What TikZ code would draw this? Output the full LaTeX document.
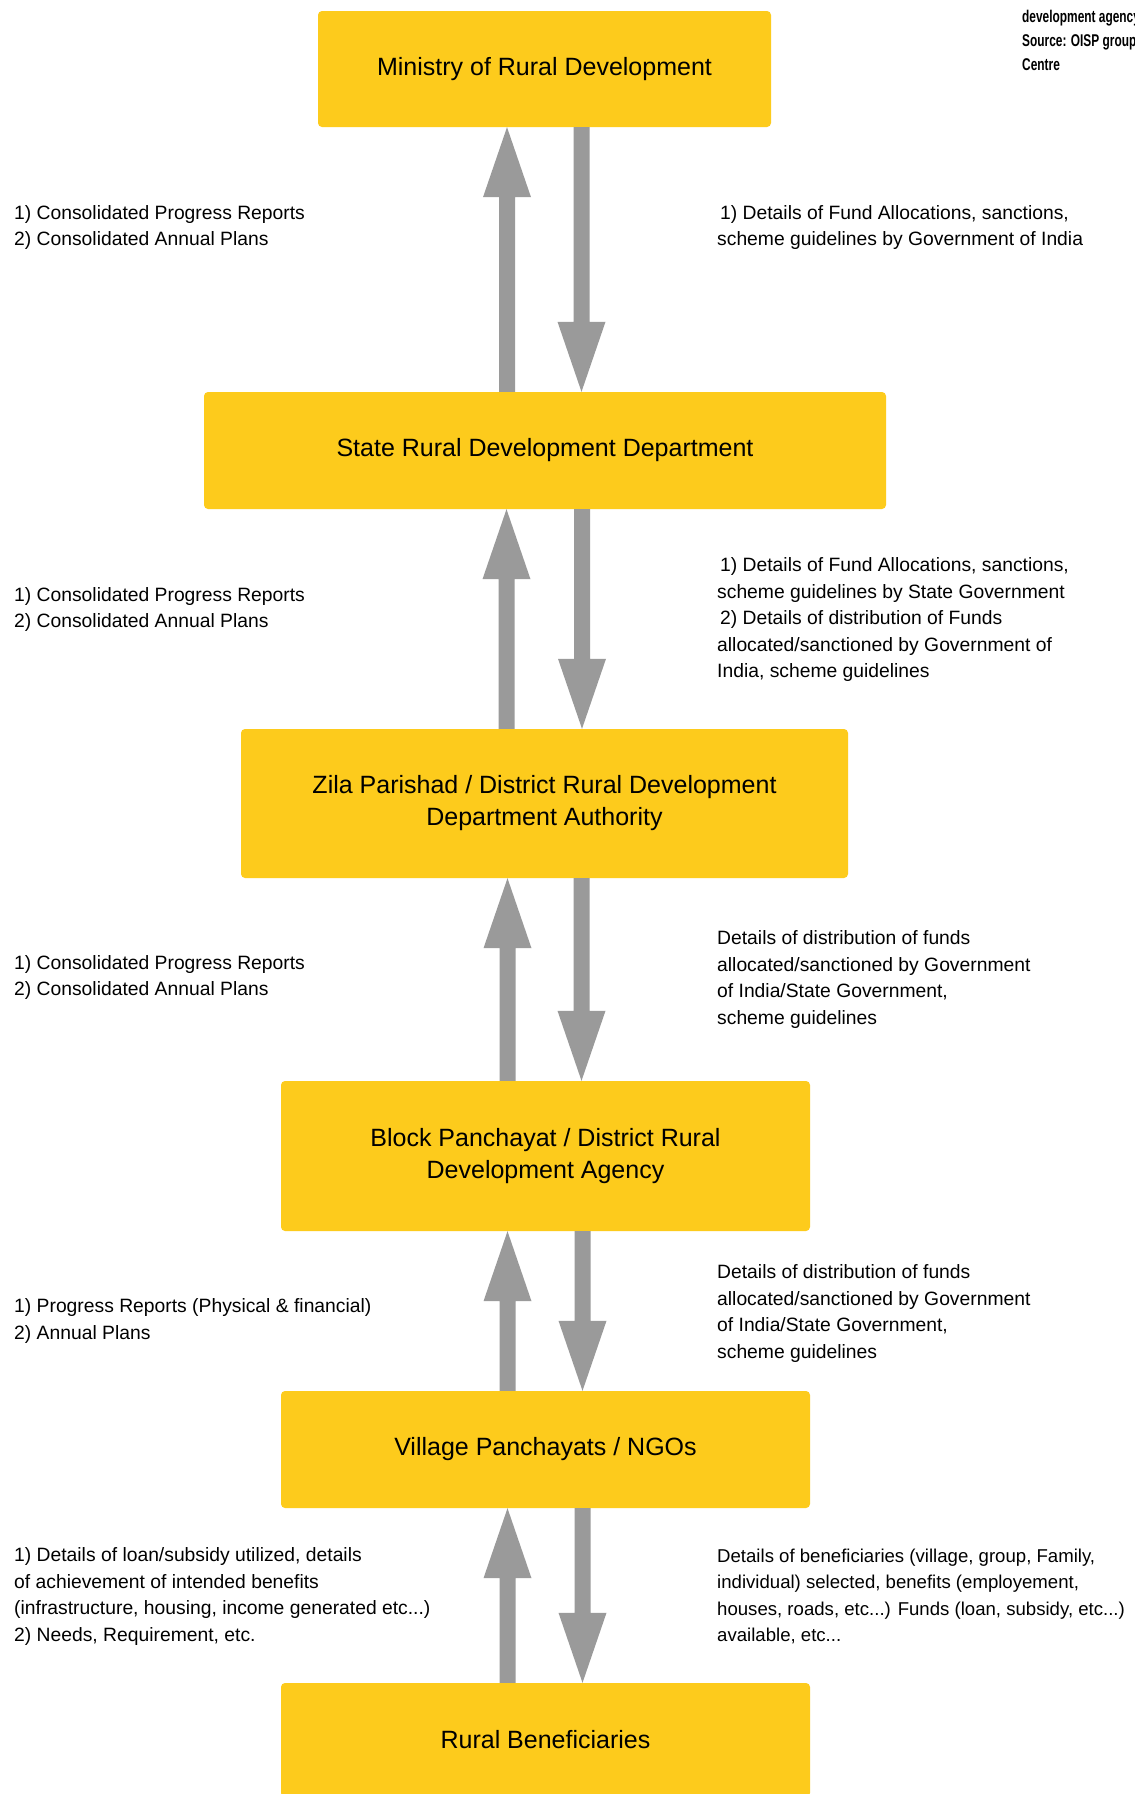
\documentclass[tikz,border=0pt]{standalone}
\usepackage{fontspec}
\setmainfont{Liberation Sans}
\newfontfamily\narrowfont[FakeStretch=0.7]{Liberation Sans}
\usetikzlibrary{calc}
\definecolor{ryellow}{HTML}{FDCB1C}
\definecolor{agrey}{HTML}{9A9A9A}
\newcommand{\uparr}[2]{\fill[agrey] let \p1=(#1), \p2=(#2) in
  (\x1-8pt,\y1) -- (\x1+8pt,\y1) -- (\x1+8pt,\y2-70pt) -- (\x1+24pt,\y2-70pt) -- (\x1,\y2)
  -- (\x1-24pt,\y2-70pt) -- (\x1-8pt,\y2-70pt) -- cycle;}
\newcommand{\downarr}[2]{\fill[agrey] let \p1=(#1), \p2=(#2) in
  (\x1-8pt,\y1) -- (\x1+8pt,\y1) -- (\x1+8pt,\y2+70pt) -- (\x1+24pt,\y2+70pt) -- (\x1,\y2)
  -- (\x1-24pt,\y2+70pt) -- (\x1-8pt,\y2+70pt) -- cycle;}
\begin{document}
\begin{tikzpicture}[x=1pt,y=-1pt,
  box/.style={fill=ryellow, rounded corners=4pt, inner sep=0pt, align=center,
    font=\fontsize{25}{32}\selectfont},
  lbl/.style={anchor=west, inner sep=0pt, align=left, font=\fontsize{19.3}{26.5}\selectfont},
]
\useasboundingbox (0,0) rectangle (1135,1794);
\clip (0,0) rectangle (1135,1794);
\fill[white] (0,0) rectangle (1135,1794);

% boxes
\node[box, minimum width=453pt, minimum height=116pt] (b1) at (544.5,69) {Ministry of Rural Development};
\node[box, minimum width=682pt, minimum height=117pt] (b2) at (545,450.5) {State Rural Development Department};
\node[box, minimum width=607pt, minimum height=149pt] (b3) at (544.5,803.5) {Zila Parishad / District Rural Development\\Department Authority};
\node[box, minimum width=529pt, minimum height=150pt] (b4) at (545.5,1156) {Block Panchayat / District Rural\\Development Agency};
\node[box, minimum width=529pt, minimum height=117pt] (b5) at (545.5,1449.5) {Village Panchayats / NGOs};
\node[box, minimum width=529pt, minimum height=114pt] (b6) at (545.5,1740) {Rural Beneficiaries};

% arrows
\uparr{[xshift=-38pt]b2.north}{[xshift=-38pt]b1.south}
\downarr{[xshift=37pt]b1.south}{[xshift=37pt]b2.north}
\uparr{[xshift=-38pt]b3.north}{[xshift=-38pt]b2.south}
\downarr{[xshift=37pt]b2.south}{[xshift=37pt]b3.north}
\uparr{[xshift=-38pt]b4.north}{[xshift=-38pt]b3.south}
\downarr{[xshift=37pt]b3.south}{[xshift=37pt]b4.north}
\uparr{[xshift=-38pt]b5.north}{[xshift=-38pt]b4.south}
\downarr{[xshift=37pt]b4.south}{[xshift=37pt]b5.north}
\uparr{[xshift=-38pt]b6.north}{[xshift=-38pt]b5.south}
\downarr{[xshift=37pt]b5.south}{[xshift=37pt]b6.north}

% left labels
\node[lbl] (l1) at (14,227.5) {1) Consolidated Progress Reports\\2) Consolidated Annual Plans};
\node[lbl] (l2) at (14,609.5) {1) Consolidated Progress Reports\\2) Consolidated Annual Plans};
\node[lbl] (l3) at (14,977.5) {1) Consolidated Progress Reports\\2) Consolidated Annual Plans};
\node[lbl] (l4) at (14,1321) {1) Progress Reports (Physical \& financial)\\2) Annual Plans};
\node[lbl] (l5) at (14,1596.5) {1) Details of loan/subsidy utilized, details\\of achievement of intended benefits\\(infrastructure, housing, income generated etc...)\\2) Needs, Requirement, etc.};

% right labels
\node[lbl] (r1) at (717,227.5) {\hspace{3pt}1) Details of Fund Allocations, sanctions,\\scheme guidelines by Government of India};
\node[lbl] (r2) at (717,619.5) {\hspace{3pt}1) Details of Fund Allocations, sanctions,\\scheme guidelines by State Government\\\hspace{3pt}2) Details of distribution of Funds\\allocated/sanctioned by Government of\\India, scheme guidelines};
\node[lbl] (r3) at (717,979.5) {Details of distribution of funds\\allocated/sanctioned by Government\\of India/State Government,\\scheme guidelines};
\node[lbl] (r4) at (717,1313.5) {Details of distribution of funds\\allocated/sanctioned by Government\\of India/State Government,\\scheme guidelines};
\node[lbl, font=\fontsize{18.6}{26.5}\selectfont] (r5) at (717,1596.5) {Details of beneficiaries (village, group, Family,\\individual) selected, benefits (employement,\\houses, roads, etc...) Funds (loan, subsidy, etc...)\\available, etc...};

% clipped source note
\node[anchor=north west, inner sep=0pt, align=left, font=\narrowfont\bfseries\fontsize{17}{24}\selectfont] (src) at (1022,10) {development agency\\Source: OISP group\\Centre};
\end{tikzpicture}
\end{document}
